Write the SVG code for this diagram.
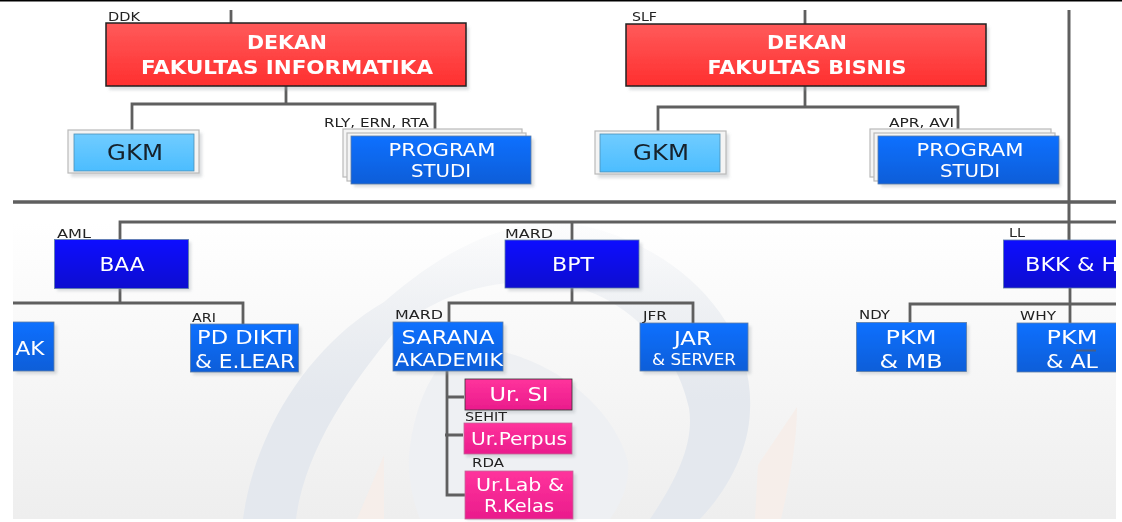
<svg xmlns="http://www.w3.org/2000/svg" width="1122" height="522" viewBox="0 0 1122 522">
  <defs>
    <linearGradient id="bg" x1="0" y1="0" x2="0" y2="1"><stop offset="0" stop-color="#ffffff"/><stop offset="1" stop-color="#eeeeee"/></linearGradient>
    <linearGradient id="red" x1="0" y1="0" x2="0" y2="1"><stop offset="0" stop-color="#ff5a5a"/><stop offset="1" stop-color="#ff2f2f"/></linearGradient>
    <linearGradient id="sky" x1="0" y1="0" x2="0" y2="1"><stop offset="0" stop-color="#70ccff"/><stop offset="1" stop-color="#4cbdff"/></linearGradient>
    <linearGradient id="blue" x1="0" y1="0" x2="0" y2="1"><stop offset="0" stop-color="#0f70ff"/><stop offset="1" stop-color="#0f5ed8"/></linearGradient>
    <linearGradient id="navy" x1="0" y1="0" x2="0" y2="1"><stop offset="0" stop-color="#1010ff"/><stop offset="1" stop-color="#0808d0"/></linearGradient>
    <linearGradient id="pink" x1="0" y1="0" x2="0" y2="1"><stop offset="0" stop-color="#ff339c"/><stop offset="1" stop-color="#ea1c8c"/></linearGradient>
    <linearGradient id="wmf" gradientUnits="userSpaceOnUse" x1="0" y1="230" x2="0" y2="400"><stop offset="0" stop-color="#e4e8ee" stop-opacity=".12"/><stop offset="1" stop-color="#e4e8ee"/></linearGradient>
    <filter id="soft" x="-2%" y="-2%" width="104%" height="104%"><feGaussianBlur stdDeviation="0.45"/></filter>
    <filter id="sh" x="-10%" y="-10%" width="125%" height="130%"><feGaussianBlur stdDeviation="1.5"/></filter>
    <clipPath id="page"><rect x="13" y="0" width="1103" height="522"/></clipPath>
    <clipPath id="wm"><rect x="13" y="222" width="1103" height="297"/></clipPath>
  </defs>
  <style>
    .t{font-family:"DejaVu Sans","Liberation Sans",sans-serif;text-anchor:middle}
    .w{fill:#fff;font-size:20px}
    .n{fill:#fff;font-size:17.500px}
    .d{fill:#fff;font-size:20px;font-weight:bold}
    .k{fill:#15202b;font-size:21px}
    .l{font-family:"DejaVu Sans","Liberation Sans",sans-serif;fill:#222;font-size:12.500px}
    .c{fill:none;stroke:#5f5f5f;stroke-width:2.800}
    .s{fill:#9aa0a8;opacity:.35;filter:url(#sh)}
    .e{stroke:#5c7da6;stroke-width:.8}
    .p{fill:#f4f4f4;stroke:#b9b9b9;stroke-width:1.200}
    .wm{fill:url(#wmf)}
    .or{fill:#f6eeea}
  </style>
  <rect width="1122" height="522" fill="#fff"/>
  <g filter="url(#soft)">
    <rect x="13" y="222" width="1103" height="297" fill="url(#bg)"/>
    <g clip-path="url(#wm)" id="watermark">
      <path class="wm" d="M243 519C255 430 310 345 384 302C430 262 490 222 560 222C670 235 755 320 750 410C749 450 728 490 700 519L650 519C680 475 694 440 689 408C675 340 610 282 540 282C480 280 430 300 396 330C350 385 305 450 296 519Z"/>
      <path fill="#eef0f3" d="M409 455C415 395 440 355 464 348C530 345 610 395 628 462C630 485 620 505 610 519L420 519C412 500 408 475 409 455Z"/>
      <path class="or" d="M384 455L357 519L384 519Z"/>
      <path class="or" d="M797 407L758 465L755 519L781 519C790 480 797 440 797 407Z"/>
    </g>
    <rect x="0" y="0" width="1122" height="1.5" fill="#000"/>
    <g id="connectors" clip-path="url(#page)">
      <path class="c" d="M231 10V23M286 86V104M132 130V104H435V129"/>
      <path class="c" d="M805 10V24M805 86V107M658 131V107H958V129"/>
      <path class="c" style="stroke-width:3.500" d="M13 202H1116"/>
      <path class="c" style="stroke-width:3" d="M1069 10V240"/>
      <path class="c" d="M120 240V222H1116M572 222V240"/>
      <path class="c" d="M120 288V303M13 303H243V324"/>
      <path class="c" d="M572 288V303M449 322V303H693V323"/>
      <path class="c" d="M1070 288V323M910 322V304H1116"/>
      <path class="c" d="M447 371V495H465M447 397H464M445 435H463"/>
    </g>

    <g id="dekan-fi">
      <rect class="s" x="109" y="27" width="360" height="63"/>
      <rect x="106" y="23" width="360" height="63" fill="url(#red)" stroke="#222" stroke-width="1.500"/>
      <text class="t d" x="287" y="49" textLength="80" lengthAdjust="spacingAndGlyphs">DEKAN</text>
      <text class="t d" x="287" y="74" textLength="292" lengthAdjust="spacingAndGlyphs">FAKULTAS INFORMATIKA</text>
      <text class="l" x="108" y="21" textLength="32" lengthAdjust="spacingAndGlyphs">DDK</text>
    </g>
    <g id="dekan-fb">
      <rect class="s" x="629" y="27" width="360" height="63"/>
      <rect x="626" y="24" width="360" height="62" fill="url(#red)" stroke="#222" stroke-width="1.500"/>
      <text class="t d" x="807" y="49" textLength="80" lengthAdjust="spacingAndGlyphs">DEKAN</text>
      <text class="t d" x="807" y="74" textLength="199" lengthAdjust="spacingAndGlyphs">FAKULTAS BISNIS</text>
      <text class="l" x="632" y="21" textLength="25" lengthAdjust="spacingAndGlyphs">SLF</text>
    </g>
    <g id="gkm-fi">
      <rect class="s" x="71" y="133" width="131" height="44"/>
      <rect class="p" x="68" y="130" width="131" height="43"/>
      <rect x="74" y="134" width="120" height="37" fill="url(#sky)" stroke="#4f8fb5" stroke-width=".8"/>
      <text class="t k" x="135" y="160" textLength="56" lengthAdjust="spacingAndGlyphs">GKM</text>
    </g>
    <g id="gkm-fb">
      <rect class="s" x="598" y="134" width="131" height="44"/>
      <rect class="p" x="595" y="131" width="131" height="43"/>
      <rect x="600" y="134" width="120" height="38" fill="url(#sky)" stroke="#4f8fb5" stroke-width=".8"/>
      <text class="t k" x="661" y="160" textLength="56" lengthAdjust="spacingAndGlyphs">GKM</text>
    </g>
    <g id="prodi-fi">
      <rect class="p" x="343" y="129" width="179" height="48"/>
      <rect class="p" x="347" y="133" width="179" height="48"/>
      <rect class="s" x="354" y="139" width="180" height="48"/>
      <rect class="e" x="351" y="136" width="180" height="48" fill="url(#blue)"/>
      <text class="t n" x="442" y="156" textLength="107" lengthAdjust="spacingAndGlyphs">PROGRAM</text>
      <text class="t n" x="441" y="177" textLength="60" lengthAdjust="spacingAndGlyphs">STUDI</text>
      <text class="l" x="324" y="127" textLength="105" lengthAdjust="spacingAndGlyphs">RLY, ERN, RTA</text>
    </g>
    <g id="prodi-fb">
      <rect class="p" x="870" y="129" width="181" height="48"/>
      <rect class="p" x="874" y="133" width="181" height="48"/>
      <rect class="s" x="881" y="139" width="180" height="48"/>
      <rect class="e" x="878" y="136" width="181" height="48" fill="url(#blue)"/>
      <text class="t n" x="970" y="156" textLength="107" lengthAdjust="spacingAndGlyphs">PROGRAM</text>
      <text class="t n" x="970" y="177" textLength="60" lengthAdjust="spacingAndGlyphs">STUDI</text>
      <text class="l" x="889" y="127" textLength="65" lengthAdjust="spacingAndGlyphs">APR, AVI</text>
    </g>
    <g id="baa">
      <rect class="s" x="57" y="242" width="134" height="49"/>
      <rect class="e" x="54.500" y="239.500" width="134" height="49" fill="url(#navy)"/>
      <text class="t w" x="122" y="271" textLength="45" lengthAdjust="spacingAndGlyphs">BAA</text>
      <text class="l" x="57" y="238" textLength="34" lengthAdjust="spacingAndGlyphs">AML</text>
    </g>
    <g id="bpt">
      <rect class="s" x="508" y="243" width="134" height="48"/>
      <rect class="e" x="505" y="240" width="134" height="48" fill="url(#navy)"/>
      <text class="t w" x="573" y="271" textLength="42" lengthAdjust="spacingAndGlyphs">BPT</text>
      <text class="l" x="505" y="238" textLength="48" lengthAdjust="spacingAndGlyphs">MARD</text>
    </g>
    <g id="bkk" clip-path="url(#page)">
      <rect class="e" x="1003.500" y="240" width="140" height="48" fill="url(#navy)"/>
      <text x="1025" y="271" fill="#fff" font-size="20" font-family="DejaVu Sans, Liberation Sans, sans-serif" textLength="100" lengthAdjust="spacingAndGlyphs">BKK &amp; HI</text>
      <text class="l" x="1009" y="237" textLength="16" lengthAdjust="spacingAndGlyphs">LL</text>
    </g>
    <g id="ak" clip-path="url(#page)">
      <rect class="s" x="16" y="325" width="41" height="49"/>
      <rect class="e" x="-20" y="322" width="74" height="49" fill="url(#blue)"/>
      <text class="t w" x="30" y="355" textLength="29" lengthAdjust="spacingAndGlyphs">AK</text>
    </g>
    <g id="pd-dikti">
      <rect class="s" x="193" y="327" width="108" height="48"/>
      <rect class="e" x="190.500" y="324" width="108" height="48" fill="url(#blue)"/>
      <text class="t w" x="245" y="344" textLength="96" lengthAdjust="spacingAndGlyphs">PD DIKTI</text>
      <text class="t w" x="245" y="368" textLength="100" lengthAdjust="spacingAndGlyphs">&amp; E.LEAR</text>
      <text class="l" x="192" y="322" textLength="24" lengthAdjust="spacingAndGlyphs">ARI</text>
    </g>
    <g id="sarana">
      <rect class="s" x="396" y="325" width="110" height="49"/>
      <rect class="e" x="393" y="322" width="110" height="49" fill="url(#blue)"/>
      <text class="t w" x="448" y="344" textLength="93" lengthAdjust="spacingAndGlyphs">SARANA</text>
      <text class="t w" style="font-size:18px" x="449" y="366" textLength="108" lengthAdjust="spacingAndGlyphs">AKADEMIK</text>
      <text class="l" x="395" y="319" textLength="48" lengthAdjust="spacingAndGlyphs">MARD</text>
    </g>
    <g id="jar">
      <rect class="s" x="643" y="326" width="108" height="48"/>
      <rect class="e" x="640" y="323" width="108" height="48" fill="url(#blue)"/>
      <text class="t w" x="693" y="345" textLength="38" lengthAdjust="spacingAndGlyphs">JAR</text>
      <text class="t w" style="font-size:15px" x="694" y="365" textLength="84" lengthAdjust="spacingAndGlyphs">&amp; SERVER</text>
      <text class="l" x="643" y="320" textLength="24" lengthAdjust="spacingAndGlyphs">JFR</text>
    </g>
    <g id="pkm-mb">
      <rect class="s" x="859" y="325" width="110" height="49"/>
      <rect class="e" x="856.500" y="322.500" width="110" height="49" fill="url(#blue)"/>
      <text class="t w" x="911" y="344" textLength="51" lengthAdjust="spacingAndGlyphs">PKM</text>
      <text class="t w" x="911" y="368" textLength="63" lengthAdjust="spacingAndGlyphs">&amp; MB</text>
      <text class="l" x="859" y="319" textLength="31" lengthAdjust="spacingAndGlyphs">NDY</text>
    </g>
    <g id="pkm-al" clip-path="url(#page)">
      <rect class="e" x="1017" y="323" width="140" height="49" fill="url(#blue)"/>
      <text class="t w" x="1072" y="344" textLength="51" lengthAdjust="spacingAndGlyphs">PKM</text>
      <text class="t w" x="1072" y="368" textLength="52" lengthAdjust="spacingAndGlyphs">&amp; AL</text>
      <rect x="1076" y="349.500" width="20" height="2" fill="#4a5f85"/>
      <text class="l" x="1020" y="320" textLength="36" lengthAdjust="spacingAndGlyphs">WHY</text>
    </g>
    <g id="ur-si">
      <rect class="s" x="467" y="382" width="108" height="31"/>
      <rect x="465" y="379" width="107" height="31" fill="url(#pink)" stroke="#333" stroke-width=".8"/>
      <text class="t w" x="519" y="401" textLength="59" lengthAdjust="spacingAndGlyphs">Ur. SI</text>
    </g>
    <g id="ur-perpus">
      <rect class="s" x="466" y="426" width="109" height="31"/>
      <rect x="464" y="423" width="108" height="31" fill="url(#pink)" stroke="#c06a9a" stroke-width=".8"/>
      <text class="t w" style="font-size:18px" x="519" y="445" textLength="96" lengthAdjust="spacingAndGlyphs">Ur.Perpus</text>
      <text class="l" x="465" y="421" textLength="42" lengthAdjust="spacingAndGlyphs">SEHIT</text>
    </g>
    <g id="ur-lab">
      <rect class="s" x="467" y="474" width="109" height="46"/>
      <rect x="465" y="471" width="108" height="48" fill="url(#pink)" stroke="#c06a9a" stroke-width=".8"/>
      <text class="t" style="fill:#fff;font-size:18px" x="520" y="491" textLength="88" lengthAdjust="spacingAndGlyphs">Ur.Lab &amp;</text>
      <text class="t" style="fill:#fff;font-size:18px" x="519" y="512" textLength="70" lengthAdjust="spacingAndGlyphs">R.Kelas</text>
      <text class="l" x="472" y="467" textLength="32" lengthAdjust="spacingAndGlyphs">RDA</text>
    </g>
  </g>
</svg>
